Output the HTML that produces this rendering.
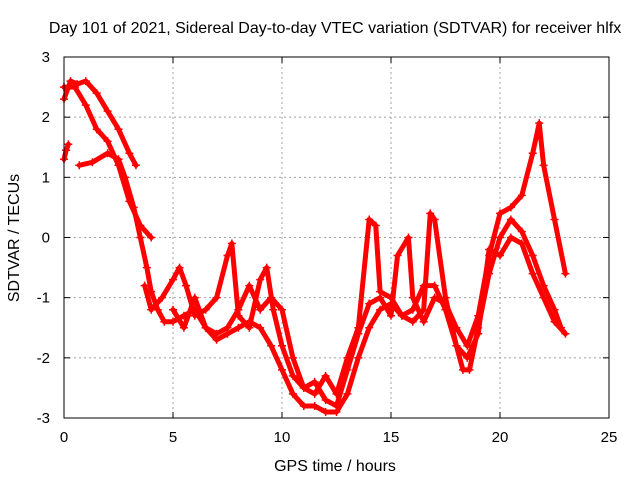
<!DOCTYPE html>
<html><head><meta charset="utf-8"><style>
body{margin:0;background:#fff}
svg{display:block;font-family:"Liberation Sans",sans-serif}
</style></head><body>
<svg id="chart" width="640" height="480">
<text x="335" y="33" text-anchor="middle" font-size="16">Day 101 of 2021, Sidereal Day-to-day VTEC variation (SDTVAR) for receiver hlfx</text>
<text x="335" y="471" text-anchor="middle" font-size="16">GPS time / hours</text>
<text transform="translate(19,238) rotate(-90)" text-anchor="middle" font-size="16">SDTVAR / TECUs</text>
<g id="grid"></g><g id="series"></g><g id="axes"></g>
</svg>
<script>
const xTicks=[0,5,10,15,20,25];
const yTicks=[-3,-2,-1,0,1,2,3];
const trackA_t=[0,0.3,0.6,1,1.5,2,2.5,3,3.3];
const trackA_v=[2.3,2.6,2.55,2.6,2.4,2.1,1.8,1.4,1.2];
const trackB_t=[0,0.5,1,1.5,2,2.5,3,3.5,4];
const trackB_v=[2.5,2.5,2.2,1.8,1.6,1.2,0.6,0.2,0.0];
const trackC0_t=[0,0.1,0.2];
const trackC0_v=[1.3,1.45,1.55];
const trackC_t=[0.7,1.3,2,2.5,2.8,3.2,3.5,3.8,4,4.3,4.6,5,5.5,6,6.5,7,7.5,8,8.5,9,9.5,10,10.5,11,11.5,12,12.5,13,13.5,14,14.5,15,15.5,16,16.5,17,17.5,18,18.3,18.6,19,19.5,20,20.5,21,21.5,22,22.5,22.8];
const trackC_v=[1.2,1.25,1.4,1.3,1.0,0.5,0.0,-0.5,-0.9,-1.2,-1.4,-1.4,-1.3,-1.2,-1.5,-1.7,-1.6,-1.5,-1.4,-1.5,-1.8,-2.2,-2.6,-2.8,-2.8,-2.9,-2.9,-2.6,-2.0,-1.5,-1.2,-1.1,-1.3,-1.2,-0.8,-0.8,-1.2,-1.8,-2.2,-2.2,-1.5,-0.6,0.0,0.3,0.1,-0.3,-0.8,-1.2,-1.5];
const trackD_t=[3.7,4,4.5,5,5.3,5.6,6,6.5,7,7.5,7.7,8,8.5,9,9.3,9.6,10,10.5,11,11.5,12,12.5,13,13.5,14,14.5,15,15.3,15.8,16,16.5,17,17.5,18,18.5,19,19.5,20,20.5,21,21.5,21.8,22,22.5,23];
const trackD_v=[-0.8,-1.2,-1.0,-0.7,-0.5,-0.8,-1.3,-1.2,-1.0,-0.3,-0.1,-1.3,-1.5,-0.7,-0.5,-1.2,-1.8,-2.3,-2.5,-2.4,-2.7,-2.8,-2.2,-1.6,-1.1,-1.0,-1.3,-0.3,0.0,-1.0,-1.4,-1.0,-1.1,-1.5,-1.8,-1.3,-0.3,0.4,0.5,0.7,1.4,1.9,1.2,0.3,-0.6];
const trackE_t=[5,5.5,6,6.5,7,7.5,8,8.5,9,9.5,10,10.5,11,11.5,12,12.5,13,13.5,14,14.3,14.5,15,15.5,16,16.5,16.8,17,17.5,18,18.5,19,19.5,20,20.5,21,21.5,22,22.5,23];
const trackE_v=[-1.2,-1.5,-1.0,-1.5,-1.6,-1.5,-1.2,-0.8,-1.2,-1.0,-1.2,-2.0,-2.5,-2.6,-2.3,-2.6,-2.0,-1.5,0.3,0.2,-0.9,-1.0,-1.3,-1.4,-1.2,0.4,0.3,-1.0,-1.8,-2.0,-1.6,-0.2,-0.3,0.0,-0.1,-0.6,-1.0,-1.4,-1.6];
const tracks=[[trackA_t,trackA_v],[trackB_t,trackB_v],[trackC0_t,trackC0_v],[trackC_t,trackC_v],[trackD_t,trackD_v],[trackE_t,trackE_v]];
const X0=64,X1=609,Y0=418,Y1=57;
const xs=t=>X0+(t-0)/(25-0)*(X1-X0);
const ys=v=>Y0-(v+3)/6*(Y0-Y1);
const NS='http://www.w3.org/2000/svg';
function mk(tag,attrs,parent){const e=document.createElementNS(NS,tag);for(const k in attrs)e.setAttribute(k,attrs[k]);parent.appendChild(e);return e;}
const grid=document.getElementById('grid'),axes=document.getElementById('axes'),ser=document.getElementById('series');
xTicks.forEach(t=>{const x=xs(t);
 if(t>0&&t<25){const g=mk('line',{x1:x,x2:x,y1:Y1,y2:Y0,stroke:'#a0a0a0','stroke-dasharray':'2,3'},grid);
 }
 mk('line',{x1:x,x2:x,y1:Y0,y2:Y0-6,stroke:'#000'},axes);mk('line',{x1:x,x2:x,y1:Y1,y2:Y1+6,stroke:'#000'},axes);
 const l=mk('text',{x:x,y:Y0+24,'text-anchor':'middle','font-size':'15'},axes);l.textContent=t;
 });
yTicks.forEach(v=>{const y=ys(v);
 if(v>-3&&v<3){const g=mk('line',{x1:X0,x2:X1,y1:y,y2:y,stroke:'#a0a0a0','stroke-dasharray':'2,3'},grid);
 }
 mk('line',{x1:X0,x2:X0+6,y1:y,y2:y,stroke:'#000'},axes);mk('line',{x1:X1,x2:X1-6,y1:y,y2:y,stroke:'#000'},axes);
 const l=mk('text',{x:50,y:y+5,'text-anchor':'end','font-size':'15'},axes);l.textContent=v;
 });
const fr=mk('rect',{x:X0,y:Y1,width:X1-X0,height:Y0-Y1,fill:'none',stroke:'#000'},axes);

tracks.forEach(([T,V])=>{
 const pts=T.map((t,i)=>xs(t)+','+ys(V[i])).join(' ');
 const pl=mk('polyline',{points:pts,fill:'none',stroke:'#f00','stroke-width':5,'stroke-linejoin':'round','stroke-linecap':'round'},ser);
 
 T.forEach((t,i)=>{const x=xs(t),y=ys(V[i]);
  const p=mk('path',{d:`M${x-4},${y}h8M${x},${y-4}v8`,stroke:'#f00','stroke-width':1.5},ser);
  });
});
</script>
</body></html>
